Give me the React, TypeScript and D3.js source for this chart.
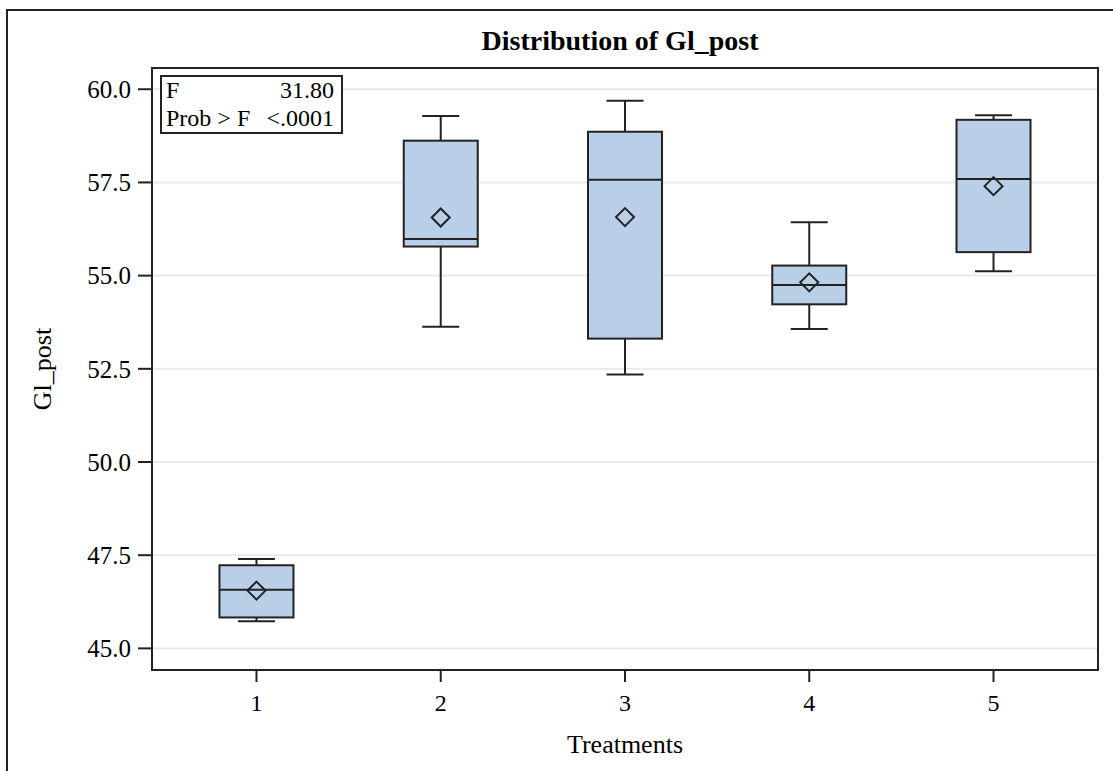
import * as d3 from "d3";

const categories = ["1", "2", "3", "4", "5"];
const minValues = [45.73, 53.63, 52.35, 53.57, 55.12];
const q1Values = [45.83, 55.78, 53.31, 54.23, 55.63];
const medianValues = [46.57, 55.98, 57.57, 54.75, 57.59];
const q3Values = [47.23, 58.62, 58.86, 55.27, 59.18];
const maxValues = [47.4, 59.28, 59.69, 56.43, 59.3];
const meanValues = [46.55, 56.56, 56.57, 54.82, 57.4];
const yTicks = [45, 47.5, 50, 52.5, 55, 57.5, 60];
const statRows = [
  ["F", "31.80"],
  ["Prob > F", "<.0001"],
];

const W = 1113;
const H = 771;
const plot = { left: 152, top: 68, right: 1098, bottom: 670 };
const font = "'Liberation Serif', 'Times New Roman', serif";
const ink = "#222";

export default function App() {
  const x = d3
    .scalePoint()
    .domain(categories)
    .range([plot.left, plot.right])
    .padding(0.567);
  const y = d3.scaleLinear().domain([44.42, 60.57]).range([plot.bottom, plot.top]);

  const boxW = 74;
  const capW = 37;
  const dm = 9;

  return (
    <div style={{ position: "fixed", left: 0, top: 0 }}>
      <svg width={W} height={H} style={{ display: "block", background: "#fff" }}>
        <rect x={7} y={10} width={W + 10} height={H + 10} fill="none" stroke={ink} strokeWidth={2} />
        <text x={620} y={50} textAnchor="middle" fontFamily={font} fontWeight="bold" fontSize={28}>
          Distribution of Gl_post
        </text>

        {yTicks.map((t) => (
          <g key={t}>
            <line x1={plot.left} x2={plot.right} y1={y(t)} y2={y(t)} stroke="#e9e9e9" strokeWidth={2} />
            <line x1={138} x2={plot.left} y1={y(t)} y2={y(t)} stroke={ink} strokeWidth={2} />
            <text x={131} y={y(t)} dy="0.35em" textAnchor="end" fontFamily={font} fontSize={25}>
              {t.toFixed(1)}
            </text>
          </g>
        ))}

        {categories.map((c) => (
          <g key={c}>
            <line x1={x(c)} x2={x(c)} y1={plot.bottom} y2={plot.bottom + 12} stroke={ink} strokeWidth={2} />
            <text x={x(c)} y={711} textAnchor="middle" fontFamily={font} fontSize={24}>
              {c}
            </text>
          </g>
        ))}

        {categories.map((c, i) => {
          const cx = x(c) as number;
          const ym = y(meanValues[i]);
          return (
            <g key={"box" + c} stroke={ink} strokeWidth={2}>
              <line x1={cx} x2={cx} y1={y(maxValues[i])} y2={y(q3Values[i])} />
              <line x1={cx} x2={cx} y1={y(q1Values[i])} y2={y(minValues[i])} />
              <line x1={cx - capW / 2} x2={cx + capW / 2} y1={y(maxValues[i])} y2={y(maxValues[i])} />
              <line x1={cx - capW / 2} x2={cx + capW / 2} y1={y(minValues[i])} y2={y(minValues[i])} />
              <rect
                x={cx - boxW / 2}
                y={y(q3Values[i])}
                width={boxW}
                height={y(q1Values[i]) - y(q3Values[i])}
                fill="#b9cfe7"
              />
              <line x1={cx - boxW / 2} x2={cx + boxW / 2} y1={y(medianValues[i])} y2={y(medianValues[i])} />
              <path
                d={`M${cx},${ym - dm}L${cx + dm},${ym}L${cx},${ym + dm}L${cx - dm},${ym}Z`}
                fill="none"
              />
            </g>
          );
        })}

        <rect
          x={plot.left}
          y={plot.top}
          width={plot.right - plot.left}
          height={plot.bottom - plot.top}
          fill="none"
          stroke={ink}
          strokeWidth={2}
        />

        <rect x={161} y={76} width={181} height={57} fill="#fff" stroke={ink} strokeWidth={2} />
        {statRows.map((r, i) => (
          <g key={r[0]} fontFamily={font} fontSize={24}>
            <text x={166} y={98 + i * 28}>{r[0]}</text>
            <text x={334} y={98 + i * 28} textAnchor="end">{r[1]}</text>
          </g>
        ))}

        <text x={625} y={753} textAnchor="middle" fontFamily={font} fontSize={26}>
          Treatments
        </text>
        <text
          transform={`translate(51, ${(plot.top + plot.bottom) / 2}) rotate(-90)`}
          textAnchor="middle"
          fontFamily={font}
          fontSize={26}
        >
          Gl_post
        </text>
      </svg>
    </div>
  );
}
